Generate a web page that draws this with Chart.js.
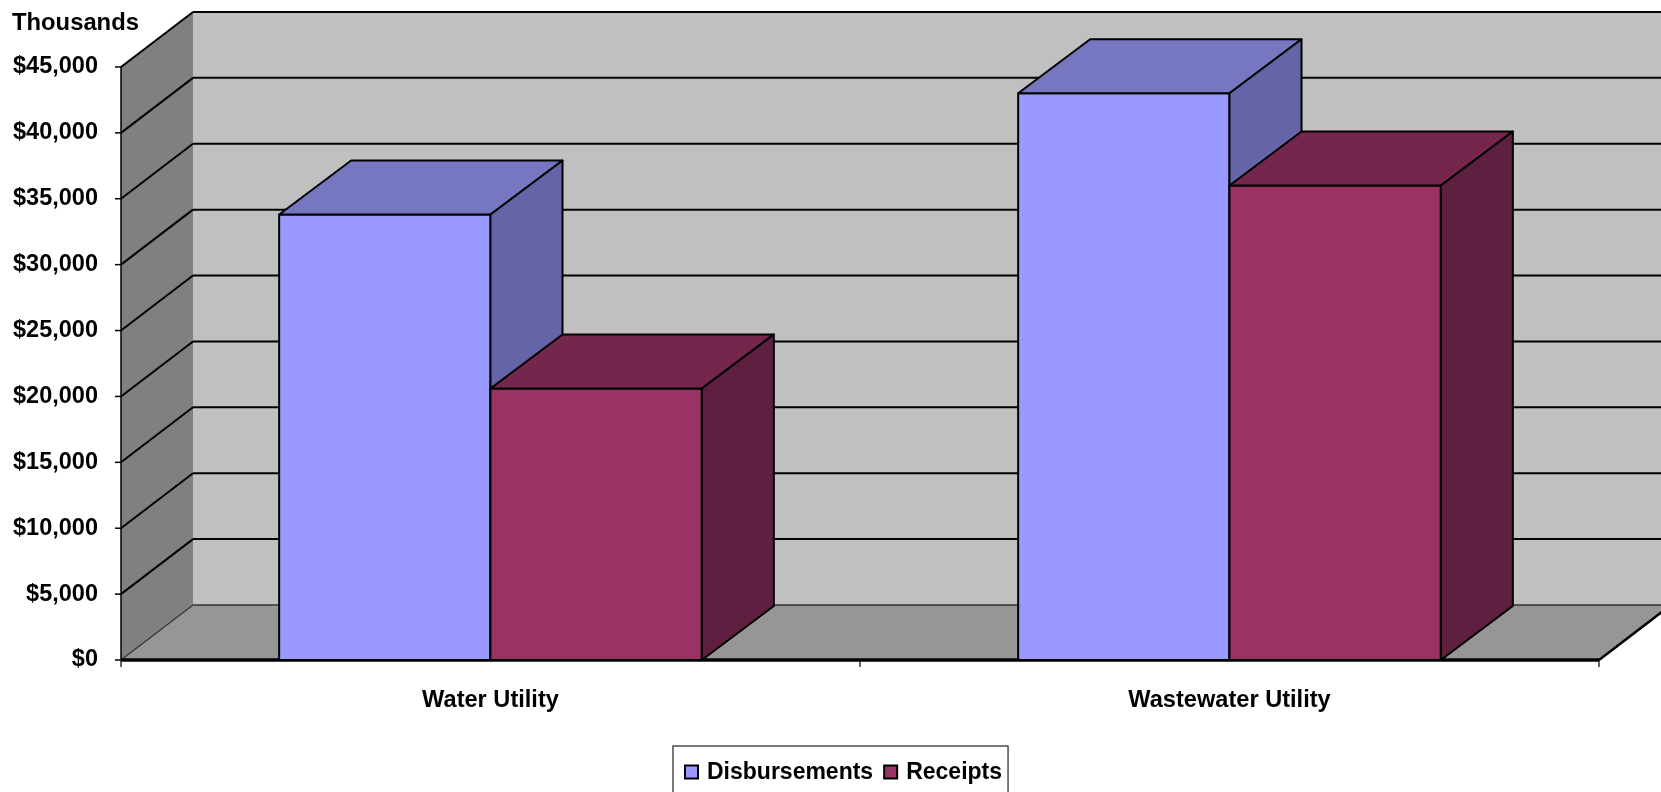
<!DOCTYPE html>
<html><head><meta charset="utf-8">
<script src="https://cdn.jsdelivr.net/npm/chart.js@4.4.0/dist/chart.umd.min.js"></script>
<style>html,body{margin:0;padding:0;background:#fff;} #wrap{width:1661px;height:792px;position:relative;}</style>
</head><body><div id="wrap"><canvas id="c"></canvas></div>
<script>
// ---- data ----
const categories = ['Water Utility', 'Wastewater Utility'];
const seriesNames = ['Disbursements', 'Receipts'];
const disbursements = [33800, 43000];
const receipts = [20600, 36000];
const yMin = 0;
const yMax = 45000;
const yStep = 5000;
const axisTitle = 'Thousands';

// ---- style ----
const FONT = '"Liberation Sans", Arial, Helvetica, sans-serif';
const faces = [
  { front: '#9999FF', top: '#7676C1', side: '#6464A6' },
  { front: '#993366', top: '#74264D', side: '#5F1F40' }
];
const BAR_DX = 72, BAR_DY = 54, WALL_DX = 72, WALL_DY = 55;

function poly(ctx, pts, fill, stroke, lw) {
  ctx.beginPath();
  ctx.moveTo(pts[0][0], pts[0][1]);
  for (let i = 1; i < pts.length; i++) ctx.lineTo(pts[i][0], pts[i][1]);
  ctx.closePath();
  if (fill) { ctx.fillStyle = fill; ctx.fill(); }
  if (stroke) { ctx.strokeStyle = stroke; ctx.lineWidth = lw || 1; ctx.stroke(); }
}
function line(ctx, x1, y1, x2, y2, color, lw) {
  ctx.beginPath(); ctx.moveTo(x1, y1); ctx.lineTo(x2, y2);
  ctx.strokeStyle = color; ctx.lineWidth = lw; ctx.stroke();
}

const threeD = {
  id: 'threeD',
  beforeDatasetsDraw(chart) {
    const { ctx, chartArea: a, scales: { x, y } } = chart;
    const W = chart.width + 20;
    const top = y.getPixelForValue(yMax), bot = y.getPixelForValue(yMin);
    const bx = a.left + WALL_DX;
    ctx.save();
    ctx.lineCap = 'butt';
    ctx.fillStyle = '#C0C0C0';
    ctx.fillRect(bx, top - WALL_DY, W - bx, bot - top);
    poly(ctx, [[a.left, top], [bx, top - WALL_DY], [bx, bot - WALL_DY], [a.left, bot]], '#808080');
    poly(ctx, [[a.left, bot], [bx, bot - WALL_DY], [a.right + WALL_DX, bot - WALL_DY], [a.right, bot]], '#969696');
    y.ticks.forEach(t => {
      const py = y.getPixelForValue(t.value);
      if (t.value === yMin) {
        line(ctx, bx, py - WALL_DY, W, py - WALL_DY, '#333', 1.5);
        line(ctx, a.left, py, bx, py - WALL_DY, '#333', 1.2);
      } else {
        line(ctx, bx, py - WALL_DY, W, py - WALL_DY, '#000', 2);
        line(ctx, a.left, py, bx, py - WALL_DY, '#000', 2);
      }
      line(ctx, a.left - 6, py, a.left, py, '#000', 1.5);
    });
    line(ctx, a.left, top, a.left, bot, '#000', 1.5);
    line(ctx, a.left, bot, a.right, bot, '#000', 3.5);
    line(ctx, a.right, bot, a.right + WALL_DX, bot - WALL_DY, '#000', 2.5);
    const n = categories.length;
    for (let i = 0; i <= n; i++) {
      const px = a.left + (a.right - a.left) * i / n;
      line(ctx, px, bot, px, bot + 7, '#000', 1.2);
    }
    ctx.restore();
  },
  beforeDatasetDraw() { return false; },
  afterDatasetsDraw(chart) {
    const { ctx } = chart;
    ctx.save();
    ctx.lineJoin = 'round';
    const metas = chart.data.datasets.map((d, i) => chart.getDatasetMeta(i));
    for (let i = 0; i < categories.length; i++) {
      metas.forEach((meta, di) => {
        const el = meta.data[i];
        const p = el.getProps(['x', 'y', 'base', 'width'], true);
        const xl = p.x - p.width / 2, xr = p.x + p.width / 2;
        const yt = Math.min(p.y, p.base), yb = Math.max(p.y, p.base);
        const f = faces[di];
        poly(ctx, [[xl, yt], [xr, yt], [xr, yb], [xl, yb]], f.front, '#000', 2);
        poly(ctx, [[xl, yt], [xl + BAR_DX, yt - BAR_DY], [xr + BAR_DX, yt - BAR_DY], [xr, yt]], f.top, '#000', 2);
        poly(ctx, [[xr, yt], [xr + BAR_DX, yt - BAR_DY], [xr + BAR_DX, yb - BAR_DY], [xr, yb]], f.side, '#000', 2);
      });
    }
    ctx.restore();
  },
  afterDraw(chart) {
    const { ctx } = chart;
    ctx.save();
    ctx.font = 'bold 23px ' + FONT;
    const boxL = 673, boxT = 746;
    let cx = boxL + 12;
    const cy = 772;
    chart.data.datasets.forEach((ds, i) => {
      ctx.fillStyle = ds.backgroundColor;
      ctx.fillRect(cx, cy - 6.5, 13, 13);
      ctx.strokeStyle = '#000'; ctx.lineWidth = 2;
      ctx.strokeRect(cx, cy - 6.5, 13, 13);
      cx += 13 + 9;
      ctx.fillStyle = '#000';
      ctx.textBaseline = 'middle';
      ctx.textAlign = 'left';
      ctx.fillText(ds.label, cx, cy + 1);
      cx += ctx.measureText(ds.label).width + 11;
    });
    const boxR = cx - 11 + 6;
    ctx.strokeStyle = '#222'; ctx.lineWidth = 1.2;
    ctx.strokeRect(boxL, boxT, boxR - boxL, 60);
    ctx.restore();
  }
};

const fmt = v => '$' + String(v).replace(/\B(?=(\d{3})+(?!\d))/g, ',');

new Chart(document.getElementById('c'), {
  type: 'bar',
  data: {
    labels: categories,
    datasets: [
      { label: seriesNames[0], data: disbursements, backgroundColor: faces[0].front },
      { label: seriesNames[1], data: receipts, backgroundColor: faces[1].front }
    ]
  },
  options: {
    responsive: true, maintainAspectRatio: false, animation: false,
    layout: { padding: { left: 12, right: 62, top: 0, bottom: 0 } },
    datasets: { bar: { categoryPercentage: 0.572, barPercentage: 1 } },
    plugins: {
      legend: { display: false },
      tooltip: { enabled: false },
      title: {
        display: true, text: axisTitle, align: 'start', color: '#000',
        font: { family: FONT, size: 23.8, weight: 'bold', lineHeight: 1.2 },
        padding: { top: 9, bottom: 29.4 }
      }
    },
    scales: {
      x: {
        grid: { display: false, drawTicks: false }, border: { display: false },
        ticks: { color: '#000', font: { family: FONT, size: 23.6, weight: 'bold' }, padding: 26, maxRotation: 0, autoSkip: false },
        afterFit(s) { s.height = 132; }
      },
      y: {
        min: yMin, max: yMax,
        grid: { display: false, drawTicks: false }, border: { display: false },
        ticks: { stepSize: yStep, color: '#000', font: { family: FONT, size: 23.5, weight: 'bold' }, padding: 23, callback: v => fmt(v) },
        afterFit(s) { s.width = 109; }
      }
    }
  },
  plugins: [threeD]
});
</script>
</body></html>
